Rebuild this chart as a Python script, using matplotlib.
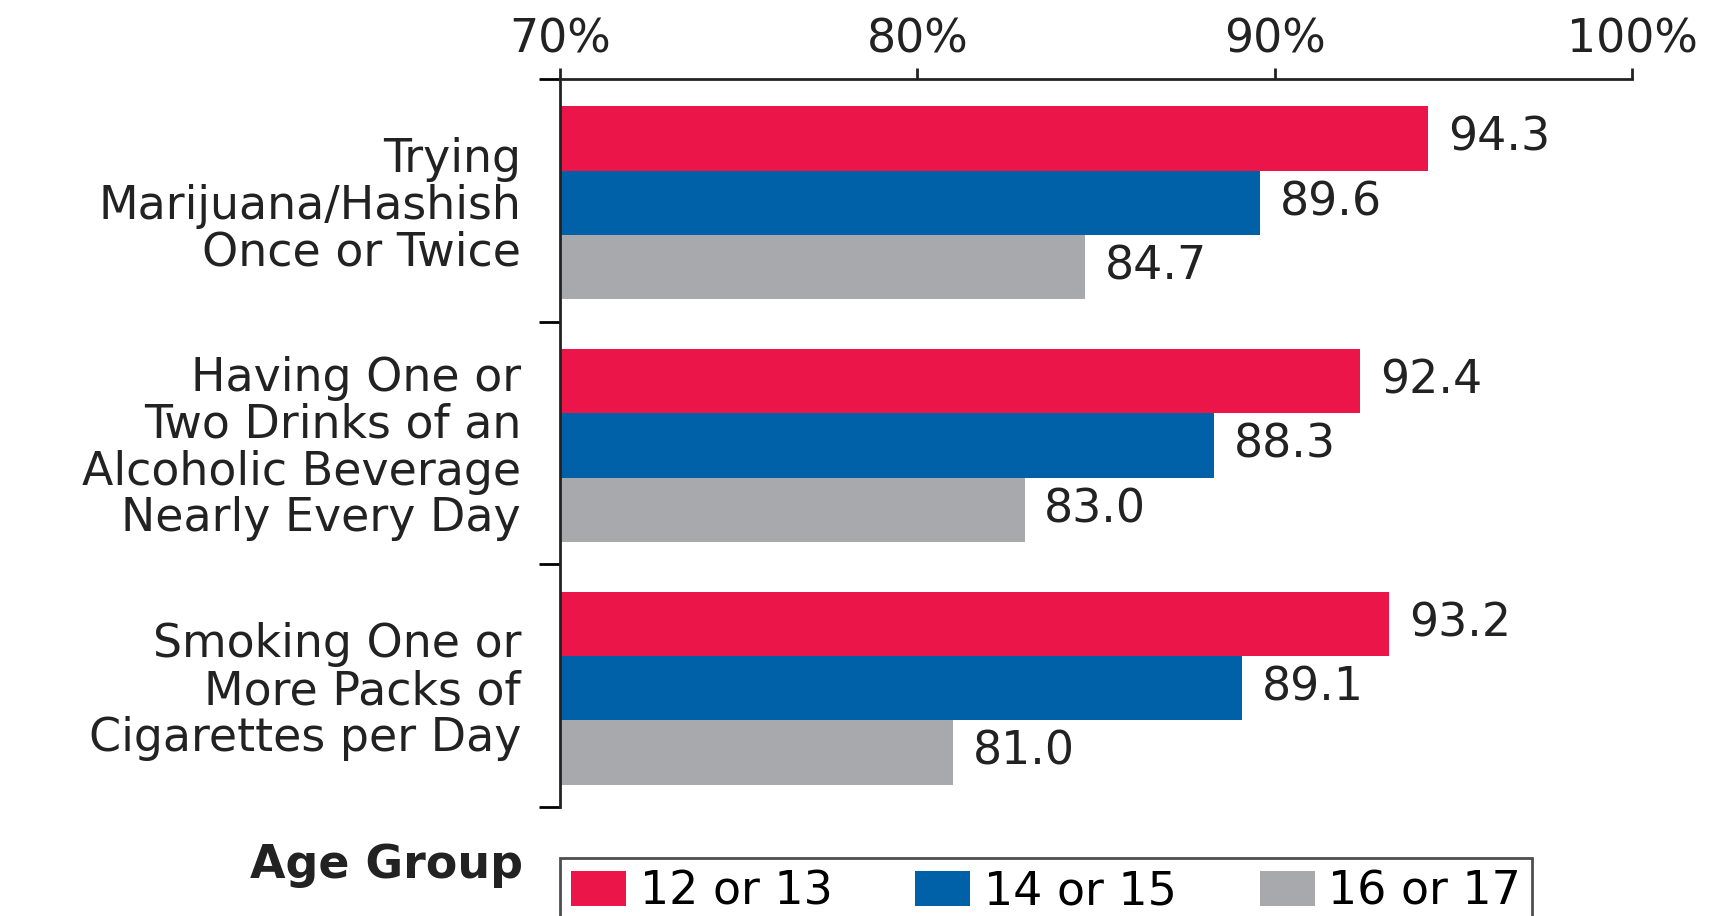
import matplotlib.pyplot as plt
import numpy as np

plt.rcParams['font.family'] = ['DejaVu Sans']

categories = ["Trying\nMarijuana/Hashish\nOnce or Twice",
              "Having One or\nTwo Drinks of an\nAlcoholic Beverage\nNearly Every Day",
              "Smoking One or\nMore Packs of\nCigarettes per Day"]
groups = ["12 or 13", "14 or 15", "16 or 17"]
age_12_13 = [94.3, 92.4, 93.2]
age_14_15 = [89.6, 88.3, 89.1]
age_16_17 = [84.7, 83.0, 81.0]
colors = ['#EC1549', '#0060A8', '#A7A9AC']

fs = 33

fig = plt.figure(figsize=(17.15, 9.16), dpi=100)
ax = fig.add_axes([0.3265, 0.119, 0.6251, 0.7948])

y = np.arange(len(categories))
h = 0.265
series = [age_12_13, age_14_15, age_16_17]
for k, (vals, col, lab) in enumerate(zip(series, colors, groups)):
    pos = y + (k - 1) * h + 0.01
    ax.barh(pos, np.array(vals) - 70, left=70, height=h, color=col, label=lab)
    for p, v in zip(pos, vals):
        ax.text(v + 0.55, p, f"{v:.1f}", va='center', ha='left', fontsize=fs, color='#222222')

ax.set_xlim(70, 100)
ax.set_ylim(2.5, -0.5)
ax.xaxis.tick_top()
ax.set_xticks([70, 80, 90, 100])
ax.set_xticklabels(["70%", "80%", "90%", "100%"])
ax.tick_params(axis='x', direction='out', length=8, width=2, pad=4, labelsize=fs, colors='#222222')

ax.set_yticks([-0.5, 0.5, 1.5, 2.5])
ax.set_yticklabels([])
ax.tick_params(axis='y', which='major', direction='out', length=15, width=2)
ax.set_yticks(y, minor=True)
ax.set_yticklabels(categories, minor=True, fontsize=fs, linespacing=1.05, ha='right', color='#222222')
ax.tick_params(axis='y', which='minor', length=0, pad=28)

for s in ['right', 'bottom']:
    ax.spines[s].set_visible(False)
for s in ['top', 'left']:
    ax.spines[s].set_linewidth(2)
    ax.spines[s].set_color('#222222')

fig.text(0.305, 0.055, "Age Group", ha='right', va='center', fontsize=fs, fontweight='bold', color='#222222')
leg = fig.legend(loc='upper left', bbox_to_anchor=(0.3265, 0.063), borderaxespad=0, ncol=3, fontsize=fs,
                 frameon=True, fancybox=False, edgecolor='#222222', handlelength=1.2,
                 handleheight=0.8, handletextpad=0.3, columnspacing=1.8, borderpad=0.25)
leg.get_frame().set_linewidth(2)

fig.savefig('out.png', dpi=100)
